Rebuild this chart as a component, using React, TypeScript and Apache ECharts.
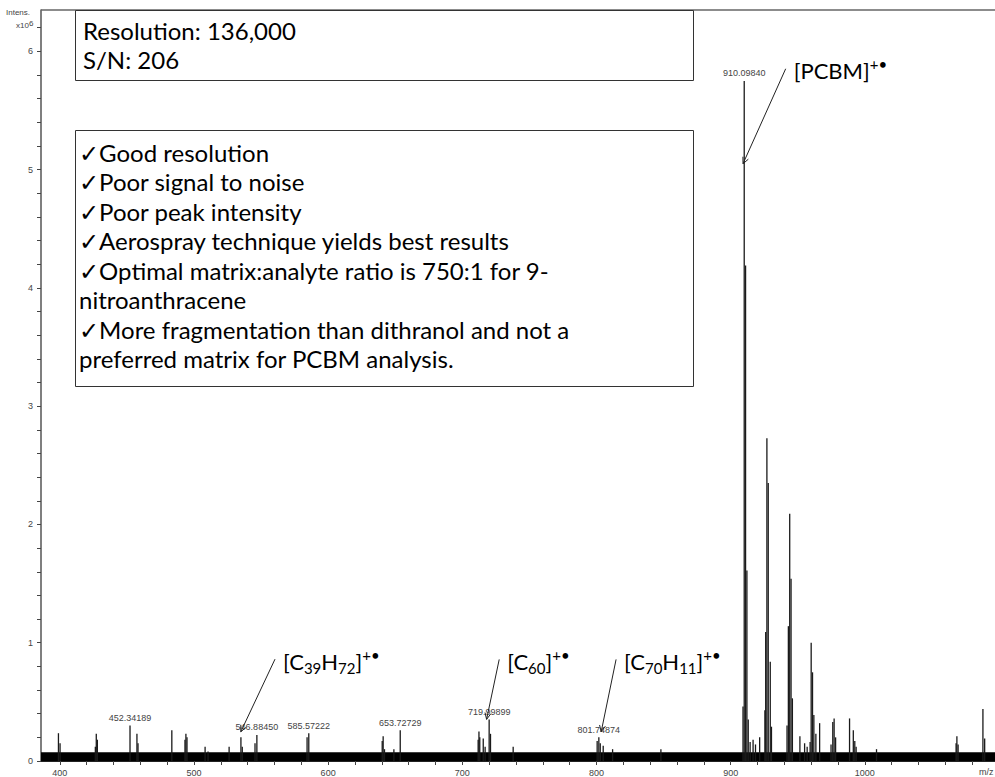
import React, { useEffect, useRef } from "react";
import * as echarts from "echarts";

// ---- axis ranges / ticks ----
const xMin = 386;
const xMax = 1097;
const yMax = 6.35; // x10^6
const xTickValues = [400, 420, 440, 460, 480, 500, 520, 540, 560, 580, 600, 620, 640, 660, 680, 700, 720, 740, 760, 780, 800, 820, 840, 860, 880, 900, 920, 940, 960, 980, 1000, 1020, 1040, 1060, 1080];
const xLabelValues = [400, 500, 600, 700, 800, 900, 1000];
const yTickValues = [0, 0.2, 0.4, 0.6, 0.8, 1, 1.2, 1.4, 1.6, 1.8, 2, 2.2, 2.4, 2.6, 2.8, 3, 3.2, 3.4, 3.6, 3.8, 4, 4.2, 4.4, 4.6, 4.8, 5, 5.2, 5.4, 5.6, 5.8, 6, 6.2];
const yLabelValues = [0, 1, 2, 3, 4, 5, 6];

// ---- spectrum peaks (m/z, intensity x10^6) ----
const peakMz = [
  399.0, 400.2, 426.5, 427.2, 428.0, 452.34189, 457.5, 458.3, 483.5, 493.3, 494.0, 494.8,
  508.3, 510.5, 526.2, 535.0, 536.0, 545.5, 546.8845, 584.3, 585.57222, 640.3, 641.0, 642.0,
  649.0, 653.72729, 711.8, 712.4, 713.0, 715.6, 717.0, 719.99899, 721.0, 737.9, 800.5, 801.74874,
  802.8, 805.0, 812.0, 848.0,
  909.2, 910.0984, 911.1, 912.1, 913.1, 914.5, 916.7, 918.5, 921.6, 925.5, 926.1, 927.0, 928.0,
  929.5, 930.4, 942.0, 943.0, 944.0, 945.0, 946.0, 951.6, 955.1, 957.0, 959.2, 960.0, 961.0,
  962.0, 963.5, 966.3, 974.8, 976.1, 977.1, 978.2, 988.6, 991.4, 992.5, 993.5, 1008.7, 1068.0,
  1068.6, 1069.5, 1088.0, 1089.3,
];
const peakIntensity = [
  0.235, 0.15, 0.12, 0.23, 0.18, 0.3, 0.23, 0.15, 0.26, 0.18, 0.23, 0.2,
  0.12, 0.08, 0.12, 0.2, 0.12, 0.15, 0.22, 0.2, 0.235, 0.17, 0.21, 0.1,
  0.1, 0.26, 0.18, 0.25, 0.2, 0.19, 0.12, 0.35, 0.23, 0.12, 0.17, 0.2,
  0.15, 0.13, 0.1, 0.1,
  0.46, 5.75, 4.19, 1.61, 0.35, 0.16, 0.18, 0.14, 0.2, 0.43, 1.09, 2.73, 2.35,
  0.84, 0.29, 0.3, 1.14, 2.09, 1.54, 0.53, 0.21, 0.15, 0.12, 0.16, 1.0, 0.75,
  0.39, 0.23, 0.32, 0.14, 0.33, 0.36, 0.2, 0.36, 0.26, 0.17, 0.12, 0.1, 0.15,
  0.21, 0.14, 0.44, 0.19,
];

// labelled peaks
const labelMz = [452.34189, 546.8845, 585.57222, 653.72729, 719.99899, 801.74874, 910.0984];
const labelText = ["452.34189", "546.88450", "585.57222", "653.72729", "719.99899", "801.74874", "910.09840"];

// baseline noise floor (m/z, intensity x10^6)
const noiseFloor = [
  [386, 0.075],
  [1097, 0.075],
];

// ion annotations: arrow tail & head in data coordinates
const ionRich = [
  "{n|[PCBM]}{sup|+•}",
  "{n|[C}{sub|39}{n|H}{sub|72}{n|]}{sup|+•}",
  "{n|[C}{sub|60}{n|]}{sup|+•}",
  "{n|[C}{sub|70}{n|H}{sub|11}{n|]}{sup|+•}",
];
const ionTail = [
  [941.0, 5.853],
  [560.4, 0.861],
  [727.5, 0.859],
  [814.6, 0.859],
];
const ionHead = [
  [909.2, 5.05],
  [534.9, 0.247],
  [718.1, 0.352],
  [803.5, 0.247],
];

const box1Lines = ["Resolution: 136,000", "S/N: 206"];
const box2Lines = [
  "✓Good resolution",
  "✓Poor signal to noise",
  "✓Poor peak intensity",
  "✓Aerospray technique yields best results",
  "✓Optimal matrix:analyte ratio is 750:1 for 9-",
  "nitroanthracene",
  "✓More fragmentation than dithranol and not a",
  "preferred matrix for PCBM analysis.",
];

const BOX_FONT = "Lato, 'DejaVu Sans', sans-serif";
const SMALL_FONT = "'Liberation Sans', Arial, sans-serif";

export default function App() {
  const ref = useRef<HTMLDivElement>(null);

  useEffect(() => {
    if (!ref.current) return;
    const chart = echarts.init(ref.current, undefined, { renderer: "svg" });

    const barData = peakMz.map((mz, i) => {
      const li = labelMz.indexOf(mz);
      if (li >= 0) {
        return {
          value: [mz, peakIntensity[i]],
          label: {
            show: true,
            position: "top",
            distance: 3,
            formatter: labelText[li],
            fontSize: 9,
            fontFamily: SMALL_FONT,
            color: "#444",
          },
        };
      }
      return { value: [mz, peakIntensity[i]] };
    });

    chart.setOption({
      animation: false,
      backgroundColor: "#fff",
      grid: { left: 41, right: 0, top: 10, bottom: 16, containLabel: false },
      xAxis: {
        type: "value",
        min: xMin,
        max: xMax,
        axisLine: { show: true, lineStyle: { color: "#222", width: 1 } },
        axisTick: { show: true, length: 4, customValues: xTickValues, lineStyle: { color: "#444" } },
        axisLabel: {
          customValues: xLabelValues,
          formatter: (v: number) => String(v),
          fontSize: 9,
          fontFamily: SMALL_FONT,
          color: "#444",
          margin: 7,
        },
        splitLine: { show: false },
      },
      yAxis: {
        type: "value",
        min: 0,
        max: yMax,
        axisLine: { show: true, lineStyle: { color: "#555", width: 1.5 } },
        axisTick: { show: true, length: 4, customValues: yTickValues, lineStyle: { color: "#444" } },
        axisLabel: {
          customValues: yLabelValues,
          formatter: (v: number) => String(v),
          fontSize: 9,
          fontFamily: SMALL_FONT,
          color: "#444",
          margin: 8,
        },
        splitLine: { show: false },
      },
      series: [
        {
          type: "line",
          name: "noise",
          data: noiseFloor,
          symbol: "none",
          lineStyle: { width: 0 },
          areaStyle: { color: "#000", opacity: 1 },
          silent: true,
          z: 1,
        },
        {
          type: "bar",
          name: "peaks",
          data: barData,
          barWidth: 1.3,
          itemStyle: { color: "#1a1a1a" },
          silent: true,
          z: 2,
        },
      ],
    });

    const graphics: any[] = [];
    // top frame line
    graphics.push({
      type: "line",
      shape: { x1: 41, y1: 10, x2: 995, y2: 10 },
      style: { stroke: "#666", lineWidth: 1.5 },
      z: 10,
    });
    // y axis title
    graphics.push({
      type: "text",
      x: 6,
      y: 12,
      style: { text: "Intens.", fontSize: 8, fontFamily: SMALL_FONT, fill: "#444", verticalAlign: "middle" },
    });
    graphics.push({
      type: "text",
      x: 16,
      y: 24,
      style: {
        text: "{a|x10}{b|6}",
        rich: {
          a: { fontSize: 8, fontFamily: SMALL_FONT, fill: "#444", lineHeight: 10, verticalAlign: "bottom" },
          b: { fontSize: 8, fontFamily: SMALL_FONT, fill: "#444", lineHeight: 10, verticalAlign: "top" },
        },
        verticalAlign: "middle",
      },
    });
    // m/z
    graphics.push({
      type: "text",
      x: 979,
      y: 772,
      style: { text: "m/z", fontSize: 9, fontFamily: SMALL_FONT, fill: "#444", verticalAlign: "middle" },
    });

    // box 1
    graphics.push({
      type: "rect",
      shape: { x: 75.5, y: 10.5, width: 618, height: 70 },
      style: { fill: "#fff", stroke: "#333", lineWidth: 1 },
      z: 20,
    });
    box1Lines.forEach((t, i) => {
      graphics.push({
        type: "text",
        x: 83,
        y: 30 + i * 29.5,
        z: 21,
        style: { text: t, fontSize: 24, fontFamily: BOX_FONT, fill: "#000", verticalAlign: "middle" },
      });
    });
    // box 2
    graphics.push({
      type: "rect",
      shape: { x: 75.5, y: 130.5, width: 618, height: 256 },
      style: { fill: "#fff", stroke: "#333", lineWidth: 1 },
      z: 20,
    });
    box2Lines.forEach((t, i) => {
      graphics.push({
        type: "text",
        x: 79,
        y: 152 + i * 29.5,
        z: 21,
        style: { text: t, fontSize: 24, fontFamily: BOX_FONT, fill: "#000", verticalAlign: "middle" },
      });
    });

    // ion annotations with arrows
    ionRich.forEach((rt, i) => {
      const t = chart.convertToPixel({ xAxisIndex: 0, yAxisIndex: 0 }, ionTail[i]) as number[];
      const h = chart.convertToPixel({ xAxisIndex: 0, yAxisIndex: 0 }, ionHead[i]) as number[];
      graphics.push({
        type: "line",
        shape: { x1: t[0], y1: t[1], x2: h[0], y2: h[1] },
        style: { stroke: "#222", lineWidth: 1 },
        z: 15,
      });
      const dx = t[0] - h[0];
      const dy = t[1] - h[1];
      const len = Math.sqrt(dx * dx + dy * dy);
      const ux = dx / len;
      const uy = dy / len;
      const a = (25 * Math.PI) / 180;
      const L = 7;
      const r1 = [ux * Math.cos(a) - uy * Math.sin(a), ux * Math.sin(a) + uy * Math.cos(a)];
      const r2 = [ux * Math.cos(-a) - uy * Math.sin(-a), ux * Math.sin(-a) + uy * Math.cos(-a)];
      graphics.push({
        type: "polyline",
        shape: {
          points: [
            [h[0] + r1[0] * L, h[1] + r1[1] * L],
            [h[0], h[1]],
            [h[0] + r2[0] * L, h[1] + r2[1] * L],
          ],
        },
        style: { stroke: "#222", lineWidth: 1, fill: "none" },
        z: 15,
      });
      graphics.push({
        type: "text",
        x: t[0] + 8,
        y: t[1] + 2,
        z: 15,
        style: {
          text: rt,
          verticalAlign: "middle",
          rich: {
            n: { fontSize: 22, fontFamily: BOX_FONT, fill: "#000", lineHeight: 28, verticalAlign: "middle" },
            sub: { fontSize: 15, fontFamily: BOX_FONT, fill: "#000", lineHeight: 14, verticalAlign: "bottom" },
            sup: { fontSize: 15, fontFamily: BOX_FONT, fill: "#000", lineHeight: 14, verticalAlign: "top" },
          },
        },
      });
    });

    chart.setOption({ graphic: graphics });

    return () => chart.dispose();
  }, []);

  return <div ref={ref} style={{ width: 995, height: 777, position: "absolute", left: 0, top: 0 }} />;
}
